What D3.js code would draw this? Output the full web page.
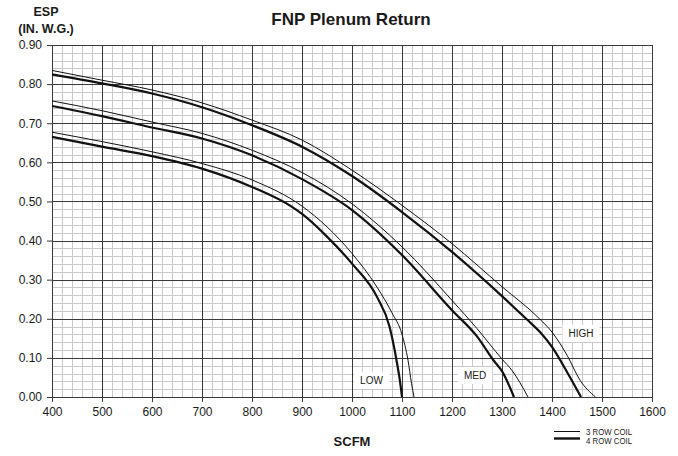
<!DOCTYPE html>
<html>
<head>
<meta charset="utf-8">
<script src="https://cdn.jsdelivr.net/npm/d3@7"></script>
<style>
  html, body { margin: 0; padding: 0; background: #fff; }
  svg { display: block; }
  text { font-family: "Liberation Sans", Arial, sans-serif; fill: #1a1a1a; }
</style>
</head>
<body>
<svg id="chart" width="678" height="456"></svg>
<script>
// ---- Data ----
const title = "FNP Plenum Return";
const xLabel = "SCFM";
const yLabel = ["ESP", "(IN. W.G.)"];
const xTicks = [400, 500, 600, 700, 800, 900, 1000, 1100, 1200, 1300, 1400, 1500, 1600];
const yTicks = [0, 0.1, 0.2, 0.3, 0.4, 0.5, 0.6, 0.7, 0.8, 0.9];
const yTickLabels = ["0.00", "0.10", "0.20", "0.30", "0.40", "0.50", "0.60", "0.70", "0.80", "0.90"];

// Speed names and the two coil types
const speeds = ["LOW", "MED", "HIGH"];
const coils = ["3 ROW COIL", "4 ROW COIL"];

// [SCFM, ESP] per curve
const low3 = [[400,0.677],[500,0.653],[600,0.627],[700,0.597],[800,0.555],[900,0.488],[950,0.435],[1000,0.367],[1050,0.281],[1080,0.215],[1100,0.16],[1112,0.094],[1119,0.035],[1124,0]];
const low4 = [[400,0.665],[500,0.640],[600,0.616],[700,0.584],[800,0.537],[880,0.486],[900,0.468],[950,0.41],[1000,0.341],[1050,0.256],[1075,0.18],[1089,0.094],[1096,0.04],[1100,0]];
const med3 = [[400,0.757],[500,0.732],[600,0.703],[700,0.674],[800,0.631],[900,0.574],[1000,0.494],[1100,0.384],[1200,0.247],[1250,0.175],[1300,0.097],[1320,0.068],[1352,0]];
const med4 = [[400,0.744],[500,0.718],[600,0.689],[700,0.661],[800,0.618],[900,0.557],[1000,0.478],[1100,0.363],[1200,0.222],[1250,0.155],[1283,0.094],[1300,0.066],[1324,0]];
const high3 = [[400,0.835],[500,0.81],[600,0.785],[700,0.752],[800,0.708],[900,0.657],[1000,0.58],[1100,0.49],[1200,0.392],[1300,0.282],[1375,0.2],[1400,0.166],[1430,0.107],[1456,0.043],[1487,0]];
const high4 = [[400,0.825],[500,0.802],[600,0.776],[700,0.741],[800,0.695],[900,0.640],[1000,0.565],[1100,0.473],[1200,0.371],[1300,0.258],[1350,0.198],[1376,0.166],[1400,0.128],[1430,0.064],[1458,0]];

// label anchors (SCFM, ESP) for speed names
const speedLabelPos = [[1039, 0.043], [1246, 0.055], [1458, 0.163]];

// ---- Drawing ----
const svg = d3.select("#chart");
const W = 678, H = 456;
const m = { left: 52, right: 26, top: 45, bottom: 59 };

const x = d3.scaleLinear().domain([400, 1600]).range([m.left, W - m.right]);
const y = d3.scaleLinear().domain([0, 0.9]).range([H - m.bottom, m.top]);
const px = v => Math.round(v) + 0.5;

const grid = svg.append("g");
// minor grid
d3.range(400, 1601, 20).filter(v => v % 100 !== 0).forEach(v => {
  grid.append("line").attr("x1", px(x(v))).attr("x2", px(x(v)))
    .attr("y1", y(0)).attr("y2", y(0.9)).attr("stroke", "#c9c9c9").attr("stroke-width", 1);
});
d3.range(0, 46).map(i => i * 0.02).filter((v, i) => i % 5 !== 0).forEach(v => {
  grid.append("line").attr("y1", px(y(v))).attr("y2", px(y(v)))
    .attr("x1", x(400)).attr("x2", x(1600)).attr("stroke", "#c9c9c9").attr("stroke-width", 1);
});
// major grid
xTicks.forEach(v => {
  grid.append("line").attr("x1", px(x(v))).attr("x2", px(x(v)))
    .attr("y1", y(0)).attr("y2", y(0.9)).attr("stroke", "#3a3a3a").attr("stroke-width", 1);
});
yTicks.forEach(v => {
  grid.append("line").attr("y1", px(y(v))).attr("y2", px(y(v)))
    .attr("x1", x(400)).attr("x2", x(1600)).attr("stroke", "#3a3a3a").attr("stroke-width", 1);
});

// axes
const xAxis = d3.axisBottom(x).tickValues(xTicks).tickSize(5).tickPadding(5).tickFormat(d3.format("d"));
const yAxis = d3.axisLeft(y).tickValues(yTicks).tickSize(5).tickPadding(5).tickFormat((d, i) => yTickLabels[i]);
const gx = svg.append("g").attr("transform", `translate(0,${px(y(0)) - 0.5})`).call(xAxis);
const gy = svg.append("g").attr("transform", `translate(${px(x(400)) - 0.5},0)`).call(yAxis);
[gx, gy].forEach(g => {
  g.select(".domain").attr("stroke", "#3a3a3a");
  g.selectAll(".tick line").attr("stroke", "#3a3a3a");
  g.selectAll(".tick text").attr("font-size", 12).attr("fill", "#222")
    .attr("font-family", "'Liberation Sans', Arial, sans-serif");
});

// curves
const line = d3.line().x(d => x(d[0])).y(d => y(d[1])).curve(d3.curveMonotoneX);
const curves = [
  { d: low3, w: 1 }, { d: low4, w: 2.2 },
  { d: med3, w: 1 }, { d: med4, w: 2.2 },
  { d: high3, w: 1 }, { d: high4, w: 2.2 }
];
svg.append("g").selectAll("path").data(curves).join("path")
  .attr("d", c => line(c.d)).attr("fill", "none")
  .attr("stroke", "#111").attr("stroke-width", c => c.w)
  .attr("stroke-linejoin", "round");

// speed labels with white boxes
speeds.forEach((s, i) => {
  const cx = x(speedLabelPos[i][0]), cy = y(speedLabelPos[i][1]);
  const g = svg.append("g");
  const t = g.append("text").attr("x", cx).attr("y", cy + 3.6).attr("text-anchor", "middle")
    .attr("font-size", 10).attr("fill", "#222").text(s);
  const bb = t.node().getBBox();
  g.insert("rect", "text").attr("x", bb.x - 6).attr("y", bb.y - 3)
    .attr("width", bb.width + 12).attr("height", bb.height + 6).attr("fill", "#fff");
});

// titles
svg.append("text").attr("x", 351).attr("y", 25).attr("text-anchor", "middle")
  .attr("font-size", 17).attr("font-weight", "bold").text(title);
svg.append("text").attr("x", 46).attr("y", 16).attr("text-anchor", "middle")
  .attr("font-size", 12.5).attr("font-weight", "bold").text(yLabel[0]);
svg.append("text").attr("x", 46).attr("y", 33).attr("text-anchor", "middle")
  .attr("font-size", 12.5).attr("font-weight", "bold").text(yLabel[1]);
svg.append("text").attr("x", 352).attr("y", 446).attr("text-anchor", "middle")
  .attr("font-size", 13).attr("font-weight", "bold").text(xLabel);

// legend
const leg = svg.append("g");
coils.forEach((c, i) => {
  const ly = 431.5 + i * 7;
  leg.append("line").attr("x1", 554).attr("x2", 580).attr("y1", ly).attr("y2", ly)
    .attr("stroke", "#111").attr("stroke-width", i === 0 ? 1 : 2.4);
  leg.append("text").attr("x", 586).attr("y", 435 + i * 9).attr("font-size", 9)
    .attr("textLength", 46).attr("lengthAdjust", "spacingAndGlyphs")
    .attr("fill", "#222").text(c);
});
</script>
</body>
</html>
